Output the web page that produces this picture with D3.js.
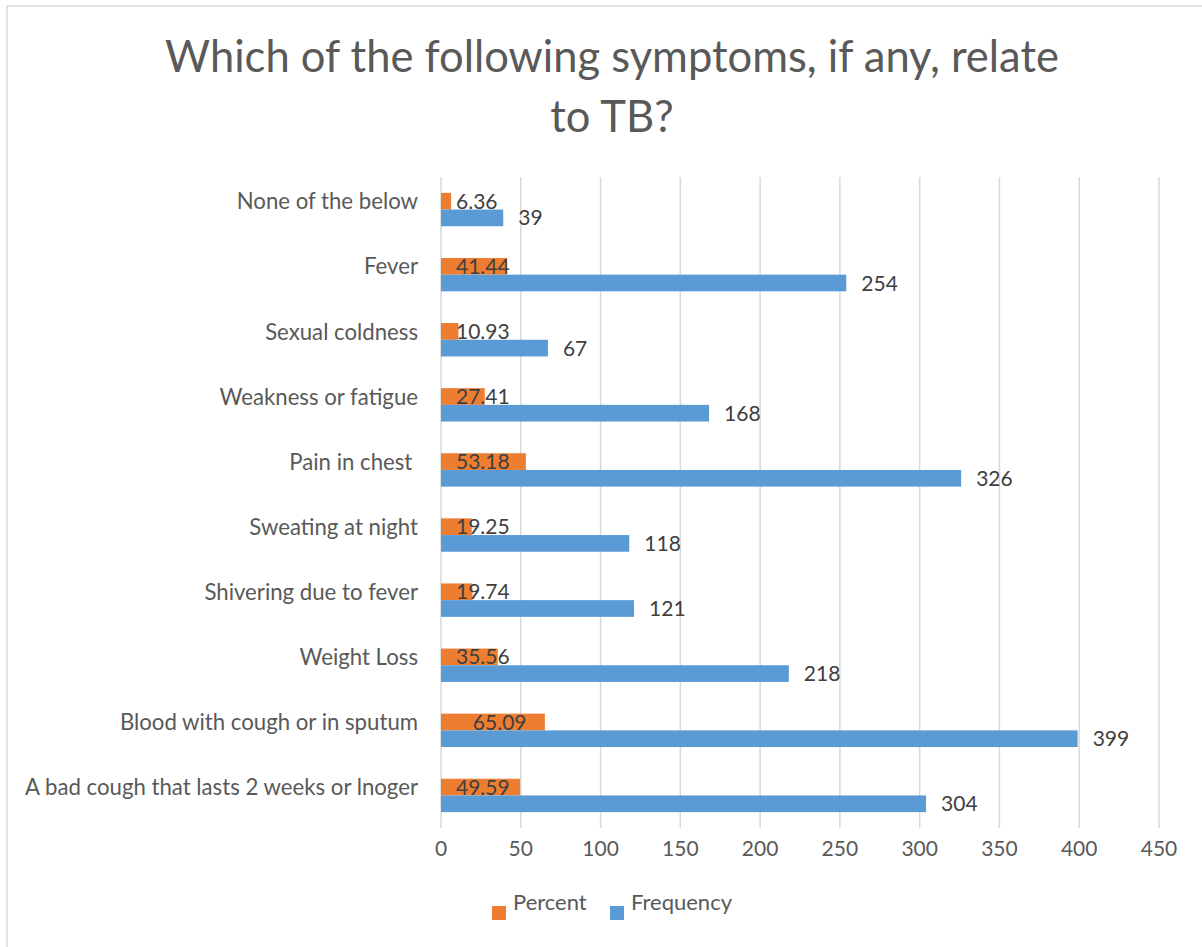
<!DOCTYPE html>
<html>
<head>
<meta charset="utf-8">
<script src="https://cdn.jsdelivr.net/npm/d3@7"></script>
<style>
  html, body { margin: 0; padding: 0; background: #fff; }
  text { font-family: Lato, "Open Sans", sans-serif; white-space: pre; }
</style>
</head>
<body>
<svg id="chart" width="1202" height="947"></svg>
<script>
const categories = [
  "None of the below",
  "Fever",
  "Sexual coldness",
  "Weakness or fatigue",
  "Pain in chest ",
  "Sweating at night",
  "Shivering due to fever",
  "Weight Loss",
  "Blood with cough or in sputum",
  "A bad cough that lasts 2 weeks or lnoger"
];
const percentValues = [6.36, 41.44, 10.93, 27.41, 53.18, 19.25, 19.74, 35.56, 65.09, 49.59];
const frequencyValues = [39, 254, 67, 168, 326, 118, 121, 218, 399, 304];
const seriesNames = ["Percent", "Frequency"];
const seriesColors = ["#ED7D31", "#5B9BD5"];
const xTicks = [0, 50, 100, 150, 200, 250, 300, 350, 400, 450];
const titleLines = ["Which of the following symptoms, if any, relate", "to TB?"];

const svg = d3.select("#chart");

// chart border (cropped at right/bottom)
svg.append("rect")
  .attr("x", 7).attr("y", 6)
  .attr("width", 1260).attr("height", 1000)
  .attr("fill", "#fff")
  .attr("stroke", "#D9D9D9").attr("stroke-width", 1.5);

// title
svg.append("g").selectAll("text")
  .data(titleLines)
  .join("text")
  .attr("x", 612)
  .attr("y", (d, i) => 72 + i * 60)
  .attr("text-anchor", "middle")
  .attr("font-size", 43.5)
  .attr("fill", "#595959")
  .text(d => d);

const x = d3.scaleLinear().domain([0, 450]).range([441, 1159]);
const y = d3.scaleBand().domain(categories).range([177, 828]).paddingInner(0).paddingOuter(0);
const groupH = y.step() * 0.513;
const sub = d3.scaleBand().domain(seriesNames).range([0, groupH]);
const groupOffset = (y.step() - groupH) / 2;

// gridlines
svg.append("g").selectAll("line")
  .data(xTicks)
  .join("line")
  .attr("x1", d => x(d)).attr("x2", d => x(d))
  .attr("y1", 177).attr("y2", 828)
  .attr("stroke", "#D9D9D9").attr("stroke-width", 1.5);

// x tick labels
svg.append("g").selectAll("text")
  .data(xTicks)
  .join("text")
  .attr("x", d => x(d))
  .attr("y", 856)
  .attr("text-anchor", "middle")
  .attr("font-size", 21)
  .attr("fill", "#595959")
  .text(d => d);

// category labels (sit slightly above the bar-group centre, as in the original)
svg.append("g").selectAll("text")
  .data(categories)
  .join("text")
  .attr("x", 418)
  .attr("y", d => y(d) + y.step() / 2 - 8)
  .attr("dy", "0.35em")
  .attr("text-anchor", "end")
  .attr("font-size", 22.2)
  .attr("fill", "#595959")
  .text(d => d);

const rows = categories.map((c, i) => ({ cat: c, Percent: percentValues[i], Frequency: frequencyValues[i] }));

// bars
seriesNames.forEach((s, si) => {
  svg.append("g").selectAll("rect")
    .data(rows)
    .join("rect")
    .attr("x", x(0))
    .attr("y", d => y(d.cat) + groupOffset + sub(s))
    .attr("width", d => x(d[s]) - x(0))
    .attr("height", sub.bandwidth())
    .attr("fill", seriesColors[si]);
});

// percent labels
svg.append("g").selectAll("text")
  .data(rows)
  .join("text")
  .attr("x", d => Math.max(x(0) + 15, x(d.Percent) - 72))
  .attr("y", d => y(d.cat) + groupOffset + sub("Percent") + sub.bandwidth() / 2)
  .attr("dy", "0.36em")
  .attr("font-size", 21)
  .attr("fill", "#404040")
  .text(d => d.Percent.toFixed(2));

// frequency labels
svg.append("g").selectAll("text")
  .data(rows)
  .join("text")
  .attr("x", d => x(d.Frequency) + 15)
  .attr("y", d => y(d.cat) + groupOffset + sub("Frequency") + sub.bandwidth() / 2)
  .attr("dy", "0.36em")
  .attr("font-size", 21)
  .attr("fill", "#404040")
  .text(d => d.Frequency);

// legend
const legendX = [492, 610];
const lg = svg.append("g").selectAll("g")
  .data(seriesNames)
  .join("g");
lg.append("rect")
  .attr("x", (d, i) => legendX[i]).attr("y", 906)
  .attr("width", 14).attr("height", 14)
  .attr("fill", (d, i) => seriesColors[i]);
lg.append("text")
  .attr("x", (d, i) => legendX[i] + 21)
  .attr("y", 910)
  .attr("font-size", 22)
  .attr("fill", "#595959")
  .text(d => d);
</script>
</body>
</html>
